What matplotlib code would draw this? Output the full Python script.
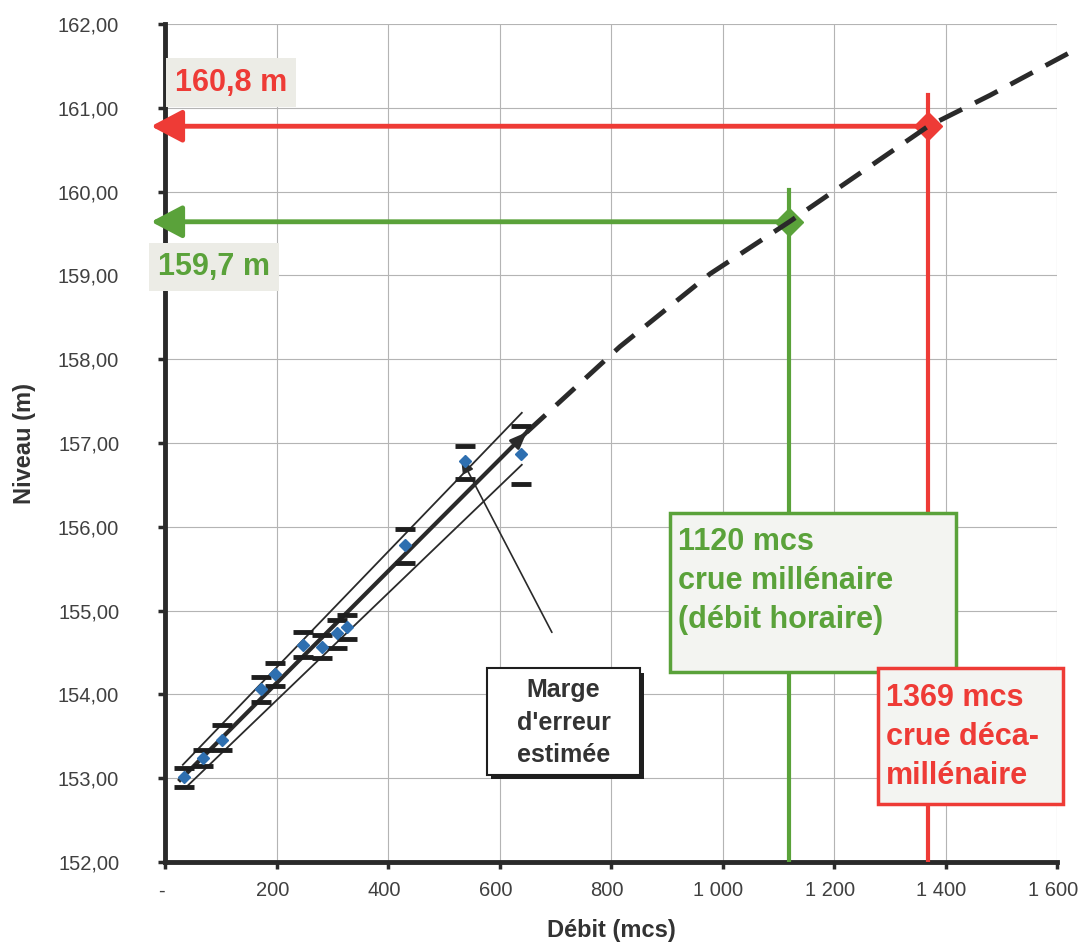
"""Courbe de tarage : niveau en fonction du débit, extrapolation des crues."""
import matplotlib

matplotlib.use("Agg")
import matplotlib.pyplot as plt
from matplotlib.patches import Rectangle
from matplotlib.transforms import ScaledTranslation

plt.rcParams["font.family"] = ["Liberation Sans", "DejaVu Sans"]

# mesures (débit mcs, niveau m) et marges d'erreur
debit = [34, 69, 102, 173, 197, 248, 281, 308, 326, 430, 538, 639]
niveau = [153.02, 153.24, 153.46, 154.07, 154.24, 154.59, 154.57, 154.73, 154.80,
          155.78, 156.78, 156.87]
err_haut = [0.10, 0.10, 0.17, 0.14, 0.14, 0.15, 0.14, 0.16, 0.15, 0.19, 0.19, 0.33]
err_bas = [0.12, 0.10, 0.12, 0.16, 0.14, 0.14, 0.13, 0.18, 0.14, 0.21, 0.21, 0.36]

# droites d'ajustement (centrale, enveloppe haute, enveloppe basse)
fit_x = [27, 649]
fit_y = [152.98, 157.13]
env_haut_x = [32, 640]
env_haut_y = [153.16, 157.36]
env_bas_x = [39, 640]
env_bas_y = [152.90, 156.74]

# extrapolation (tirets)
extra_x = [649, 816, 978, 1120, 1369, 1480, 1640]
extra_y = [157.13, 158.15, 159.02, 159.64, 160.78, 161.15, 161.72]

# crues de projet
q_mill, h_mill, top_mill = 1120, 159.64, 160.02
q_decamill, h_decamill, top_decamill = 1369, 160.78, 161.15

xticks = [0, 200, 400, 600, 800, 1000, 1200, 1400, 1600]
xtick_labels = ["-", "200", "400", "600", "800", "1 000", "1 200", "1 400", "1 600"]
yticks = [152, 153, 154, 155, 156, 157, 158, 159, 160, 161, 162]

RED = "#EE3B36"
GREEN = "#5AA23A"
DARK = "#2a2a2a"

fig = plt.figure(figsize=(10.79, 9.48), dpi=100)
ax = fig.add_axes([165 / 1079, 1 - 862 / 948, 892 / 1079, 838 / 948])
ax.set_xlim(0, 1600)
ax.set_ylim(152, 162)

ax.set_xticks(xticks)
ax.set_xticklabels(xtick_labels)
ax.set_yticks(yticks)
ax.set_yticklabels([f"{v:.2f}".replace(".", ",") for v in yticks])
ax.grid(color="#b4b4b4", lw=0.8, zorder=0)
ax.set_axisbelow(True)
for s in ("top", "right"):
    ax.spines[s].set_visible(False)
for s in ("left", "bottom"):
    ax.spines[s].set_linewidth(3.5)
    ax.spines[s].set_color(DARK)
ax.tick_params(direction="out", length=5, width=2.5, color=DARK,
               labelsize=14.5, labelcolor="#404040")
ax.tick_params(axis="y", pad=28)
ax.tick_params(axis="x", pad=9)
# léger décalage à gauche des étiquettes, comme dans l'original
for lab in ax.get_xticklabels():
    lab.set_transform(lab.get_transform() + ScaledTranslation(-4 / 100, 0, fig.dpi_scale_trans))

ax.set_xlabel("Débit (mcs)", fontsize=17, fontweight="bold", color="#333333")
ax.set_ylabel("Niveau (m)", fontsize=17, fontweight="bold", color="#333333")
ax.xaxis.set_label_coords(0.5, -0.068)
ax.yaxis.set_label_coords(-0.145, 0.5)

# guides des crues
ax.plot([q_mill, q_mill], [152, top_mill], color=GREEN, lw=3, zorder=3)
ax.plot([q_decamill, q_decamill], [152, top_decamill], color=RED, lw=3, zorder=3)
for q, h, c in [(q_mill, h_mill, GREEN), (q_decamill, h_decamill, RED)]:
    ax.annotate("", xy=(-25, h), xytext=(q, h), annotation_clip=False,
                arrowprops=dict(arrowstyle="-|>,head_length=19,head_width=10",
                                mutation_scale=1, color=c, lw=3.5,
                                shrinkA=0, shrinkB=0), zorder=3)
    ax.plot(q, h, marker="D", ms=14, color=c, zorder=4)

# extrapolation
ax.plot(extra_x, extra_y, color=DARK, lw=3.5, dashes=(5.2, 3), clip_on=False, zorder=4)

# ajustements
ax.plot(env_haut_x, env_haut_y, color=DARK, lw=1.3, zorder=3)
ax.plot(env_bas_x, env_bas_y, color=DARK, lw=1.3, zorder=3)
ax.plot(fit_x, fit_y, color=DARK, lw=3, zorder=3)
ax.annotate("", xy=(fit_x[1], fit_y[1]), xytext=(fit_x[1] - 40, fit_y[1] - 0.267),
            arrowprops=dict(arrowstyle="-|>,head_length=10,head_width=4",
                            mutation_scale=1, color=DARK, lw=2, shrinkA=0, shrinkB=0))

# mesures + marges
ax.plot(debit, [n + e for n, e in zip(niveau, err_haut)], ls="none", marker="_",
        ms=14, mew=3.5, color="#1e1e1e", zorder=4)
ax.plot(debit, [n - e for n, e in zip(niveau, err_bas)], ls="none", marker="_",
        ms=14, mew=3.5, color="#1e1e1e", zorder=4)
ax.plot(debit, niveau, ls="none", marker="D", ms=6.5, color="#2E6FB0", zorder=5)

# étiquettes des niveaux
ax.text(18, 161.3, "160,8 m", color=RED, fontsize=22, fontweight="bold", va="center",
        bbox=dict(boxstyle="square,pad=0.3", fc="#ECECE6", ec="none"), zorder=6)
ax.text(-12, 159.1, "159,7 m", color=GREEN, fontsize=22, fontweight="bold", va="center",
        bbox=dict(boxstyle="square,pad=0.3", fc="#ECECE6", ec="none"), zorder=6)

# encadré marge d'erreur
ax.annotate("", xy=(531, 156.82), xytext=(694, 154.74),
            arrowprops=dict(arrowstyle="-|>,head_length=9,head_width=3.5",
                            mutation_scale=1, color=DARK, lw=1.2, shrinkA=0, shrinkB=0))
ax.add_patch(Rectangle((585, 152.99), 274.4, 1.27, fc="#1e1e1e", ec="none", zorder=5))
ax.add_patch(Rectangle((577.6, 153.04), 274.4, 1.27, fc="white", ec="#1e1e1e",
                       lw=1.5, zorder=5))
ax.text(715, 153.66, "Marge\nd'erreur\nestimée", ha="center", va="center",
        multialignment="center", fontsize=18, fontweight="bold", color="#333333",
        linespacing=1.45, zorder=6)

# encadrés des crues
ax.add_patch(Rectangle((905.8, 154.27), 513, 1.895, fc="#F3F4F1", ec=GREEN,
                       lw=2.5, zorder=6))
ax.text(920, 156.0, "1120 mcs\ncrue millénaire\n(débit horaire)", ha="left", va="top",
        fontsize=22, fontweight="bold", color=GREEN, linespacing=1.4, zorder=7)
ax.add_patch(Rectangle((1279, 152.69), 331.8, 1.625, fc="#F3F4F1", ec=RED,
                       lw=2.5, clip_on=False, zorder=8))
ax.text(1293, 154.14, "1369 mcs\ncrue déca-\nmillénaire", ha="left", va="top",
        fontsize=22, fontweight="bold", color=RED, linespacing=1.4, zorder=9)

fig.savefig("out.png", dpi=100)
